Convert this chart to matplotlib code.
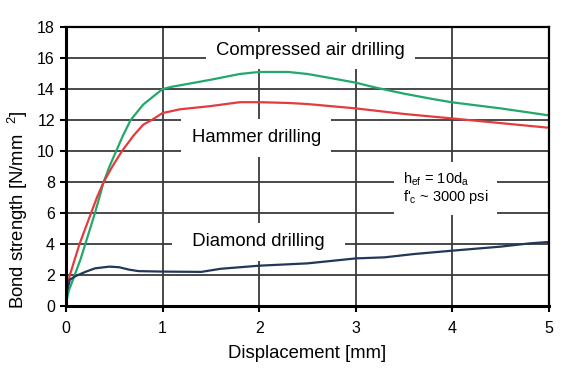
import matplotlib
matplotlib.use("Agg")
import matplotlib.pyplot as plt

plt.rcParams['font.family'] = ['Liberation Sans', 'DejaVu Sans']
plt.rcParams['mathtext.default'] = 'regular'

# Compressed air drilling (green)
air_x = [0, 0.03, 0.09, 0.15, 0.2, 0.25, 0.3, 0.345, 0.39, 0.45, 0.52, 0.59, 0.67, 0.8, 1.0, 1.1,
         1.2, 1.5, 1.8, 2.0, 2.3, 2.5, 2.7, 3.0, 3.2, 3.5, 3.8, 4.0, 4.5, 5.0]
air_y = [0.2, 1, 2, 3, 4, 5, 6, 7, 8, 9, 10, 11, 12, 13, 14.0, 14.15,
         14.26, 14.6, 14.97, 15.1, 15.1, 14.97, 14.75, 14.41, 14.1, 13.7, 13.35, 13.14, 12.75, 12.3]

# Hammer drilling (red)
ham_x = [0, 0.04, 0.09, 0.14, 0.2, 0.26, 0.32, 0.39, 0.48, 0.58, 0.7, 0.8, 0.887, 1.0, 1.18,
         1.5, 1.8, 2.0, 2.3, 2.5, 3.0, 3.5, 4.0, 4.5, 5.0]
ham_y = [0.9, 2, 3, 4, 5, 6, 7, 8, 9, 10, 11, 11.7, 12.0, 12.45, 12.69,
         12.9, 13.15, 13.15, 13.1, 13.03, 12.75, 12.39, 12.1, 11.8, 11.5]

# Diamond drilling (navy)
dia_x = [0, 0.04, 0.1, 0.2, 0.3, 0.45, 0.55, 0.65, 0.75, 1.0, 1.4, 1.6, 2.0, 2.5, 3.0, 3.3,
         3.6, 4.0, 4.5, 4.8, 5.0]
dia_y = [0.7, 1.7, 1.93, 2.2, 2.43, 2.54, 2.5, 2.35, 2.25, 2.22, 2.2, 2.4, 2.6, 2.75, 3.07, 3.14,
         3.35, 3.57, 3.83, 4.04, 4.13]

x_ticks = [0, 1, 2, 3, 4, 5]
y_ticks = [0, 2, 4, 6, 8, 10, 12, 14, 16, 18]

fig = plt.figure(figsize=(5.67, 3.68), dpi=100)
ax = fig.add_axes([0.1164, 0.1685, 0.968 - 0.1164, 0.9266 - 0.1685])

ax.set_xlim(0, 5)
ax.set_ylim(0, 18)
ax.set_xticks(x_ticks)
ax.set_yticks(y_ticks)
ax.grid(True, color='#3a3a3a', linewidth=1.3, zorder=0)
ax.set_axisbelow(True)

ax.plot(air_x, air_y, color='#21a86a', linewidth=1.6, zorder=3)
ax.plot(ham_x, ham_y, color='#e53a3e', linewidth=1.6, zorder=3)
ax.plot(dia_x, dia_y, color='#23375a', linewidth=1.6, zorder=3)

for s in ['left', 'bottom']:
    ax.spines[s].set_linewidth(2.2)
for s in ['top', 'right']:
    ax.spines[s].set_linewidth(1.6)
for s in ax.spines.values():
    s.set_color('black')
    s.set_zorder(5)

ax.tick_params(axis='both', direction='out', length=4, width=1.5, labelsize=11.5, colors='black')
ax.tick_params(axis='x', pad=7)
ax.tick_params(axis='y', pad=4)

ax.set_xlabel('Displacement [mm]', fontsize=13.3, labelpad=6)
fig.text(18 / 567, 1 - 210 / 368, 'Bond strength [N/mm  $^{2}$]', fontsize=13.3,
         rotation=90, ha='center', va='center')

box = dict(facecolor='white', edgecolor='none', boxstyle='square,pad=0.55')
ax.text(2.53, 16.5, 'Compressed air drilling', fontsize=13.3, ha='center', va='center', bbox=box, zorder=2.5)
ax.text(1.97, 10.84, 'Hammer drilling', fontsize=13.3, ha='center', va='center', bbox=box, zorder=2.5)
ax.text(1.99, 4.13, '  Diamond drilling  ', fontsize=13.3, ha='center', va='center', bbox=box, zorder=2.5)
ax.text(3.49, 7.6, '$h_{ef}$ = 10$d_a$\nf\'$_c$ ~ 3000 psi', fontsize=10.5, ha='left', va='center',
        linespacing=1.0, bbox=dict(facecolor='white', edgecolor='none', boxstyle='square,pad=0.6'), zorder=2.5)

fig.savefig('out.png', dpi=100)
